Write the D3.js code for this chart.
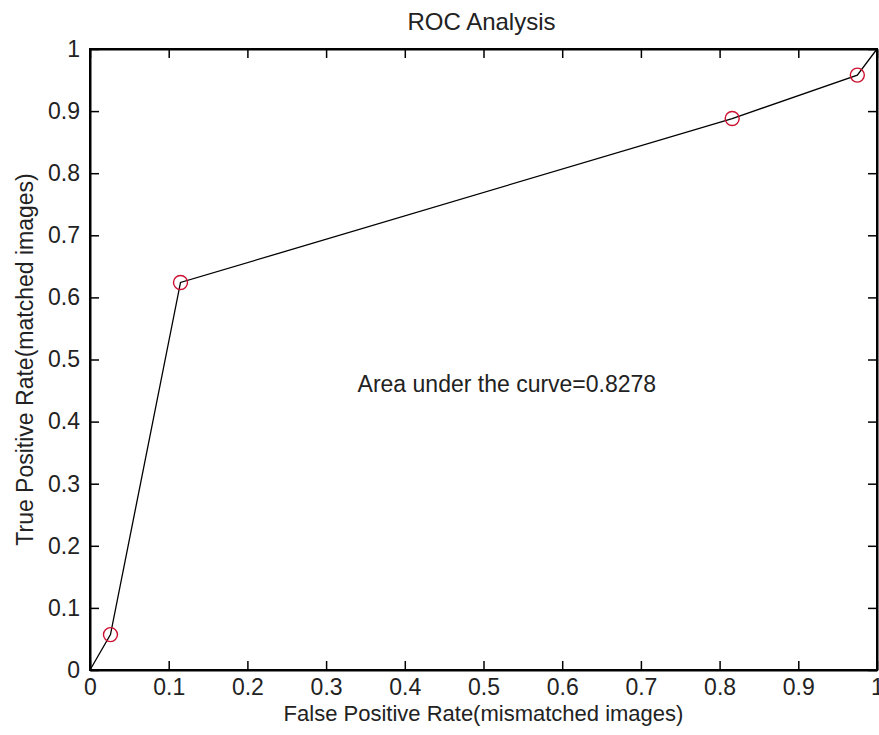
<html>
<head>
    <script src='https://cdnjs.cloudflare.com/ajax/libs/d3/7.8.5/d3.min.js'></script>
    <style>
        body { margin: 0; background: #fff; }
        text { font-family: 'Liberation Sans', Arial, sans-serif; }
    </style>
</head>
<body>
</body>

<script>
    // ROC points
    var fpr = [0, 0.026, 0.115, 0.816, 0.975, 1];
    var tpr = [0, 0.057, 0.624, 0.888, 0.958, 1];
    var markerIdx = [1, 2, 3, 4];
    var ticks = [0, 0.1, 0.2, 0.3, 0.4, 0.5, 0.6, 0.7, 0.8, 0.9, 1];
    var aucText = 'Area under the curve=0.8278';
    var aucPos = [0.34, 0.448];

    var width = 879, height = 735;
    var margin = {left: 90, right: 2, top: 49, bottom: 65};
    var pw = width - margin.left - margin.right;
    var ph = height - margin.top - margin.bottom;

    var svg = d3.select('body').append('svg')
                .attr('width', width).attr('height', height);

    var x = d3.scaleLinear().domain([0, 1]).range([0, pw]);
    var y = d3.scaleLinear().domain([0, 1]).range([ph, 0]);

    var g = svg.append('g')
               .attr('transform', 'translate(' + margin.left + ',' + margin.top + ')');

    function fmt(d) { return d === 0 ? '0' : d === 1 ? '1' : d3.format('.1f')(d); }

    // axes with inward ticks, like matlab
    g.append('g').attr('transform', 'translate(0,' + ph + ')')
     .call(d3.axisBottom(x).tickValues(ticks).tickFormat(fmt).tickSizeInner(-9).tickSizeOuter(0).tickPadding(9));
    g.append('g')
     .call(d3.axisLeft(y).tickValues(ticks).tickFormat(fmt).tickSizeInner(-9).tickSizeOuter(0).tickPadding(10));
    g.append('g').call(d3.axisTop(x).tickValues(ticks).tickFormat('').tickSizeInner(-9).tickSizeOuter(0));
    g.append('g').attr('transform', 'translate(' + pw + ',0)')
     .call(d3.axisRight(y).tickValues(ticks).tickFormat('').tickSizeInner(-9).tickSizeOuter(0));

    g.selectAll('.domain').attr('stroke', '#000').attr('stroke-width', 2);
    g.selectAll('.tick line').attr('stroke', '#000').attr('stroke-width', 1.5);
    g.selectAll('.tick text').attr('font-size', 23).attr('fill', '#222')
     .attr('font-family', "'Liberation Sans', Arial, sans-serif");

    g.append('rect').attr('width', pw).attr('height', ph)
     .attr('fill', 'none').attr('stroke', '#000').attr('stroke-width', 2);

    var pts = fpr.map(function (d, i) { return [d, tpr[i]]; });
    var line = d3.line().x(function (d) { return x(d[0]); }).y(function (d) { return y(d[1]); });

    g.append('path').datum(pts).attr('d', line)
     .attr('fill', 'none').attr('stroke', '#000').attr('stroke-width', 1.3);

    g.selectAll('circle.m').data(markerIdx).enter().append('circle')
     .attr('class', 'm')
     .attr('cx', function (i) { return x(fpr[i]); })
     .attr('cy', function (i) { return y(tpr[i]); })
     .attr('r', 7)
     .attr('fill', 'none').attr('stroke', '#cc1030').attr('stroke-width', 1.4);

    g.append('text').attr('x', x(aucPos[0])).attr('y', y(aucPos[1]))
     .attr('font-size', 23).attr('fill', '#222').text(aucText);

    svg.append('text').attr('x', margin.left + pw / 2 - 2).attr('y', 30)
       .attr('text-anchor', 'middle').attr('font-size', 24).attr('fill', '#222').text('ROC Analysis');

    svg.append('text').attr('x', margin.left + pw / 2).attr('y', 721)
       .attr('text-anchor', 'middle').attr('font-size', 22).attr('fill', '#222')
       .text('False Positive Rate(mismatched images)');

    svg.append('text')
       .attr('transform', 'translate(33,' + (margin.top + ph / 2) + ') rotate(-90)')
       .attr('text-anchor', 'middle').attr('font-size', 23).attr('fill', '#222')
       .text('True Positive Rate(matched images)');
</script>
</html>
